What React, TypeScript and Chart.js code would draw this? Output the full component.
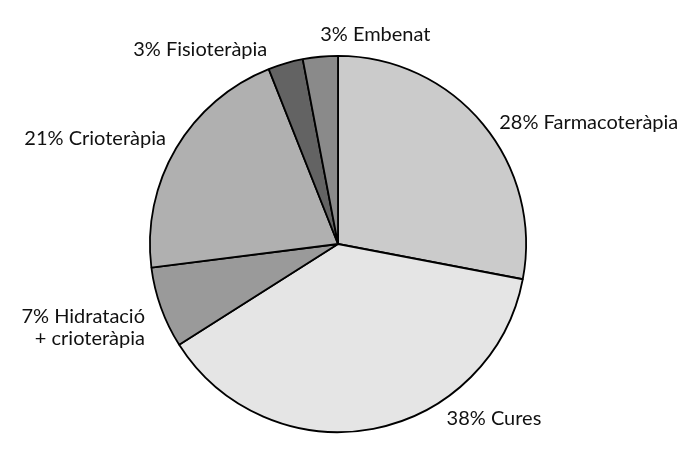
import React, { useEffect, useRef } from "react";
import { Chart, registerables } from "chart.js";

Chart.register(...registerables);

const categories = ["Farmacoteràpia", "Cures", "Hidratació + crioteràpia", "Crioteràpia", "Fisioteràpia", "Embenat"];
const values = [28, 38, 7, 21, 3, 3];
const labelLines = [
  ["28% Farmacoteràpia"],
  ["38% Cures"],
  ["7% Hidratació", "+ crioteràpia"],
  ["21% Crioteràpia"],
  ["3% Fisioteràpia"],
  ["3% Embenat"],
];
const colors = ["#cbcbcb", "#e5e5e5", "#9a9a9a", "#b0b0b0", "#636363", "#8a8a8a"];
// label anchors in units of the pie radius from its centre
const labelAnchors = [
  { dx: 0.857, dy: -0.614, align: "left" },
  { dx: 0.577, dy: 0.963, align: "left" },
  { dx: -1.026, dy: 0.418, align: "right" },
  { dx: -0.915, dy: -0.524, align: "right" },
  { dx: -0.376, dy: -1.0, align: "right" },
  { dx: -0.095, dy: -1.079, align: "left" },
];

const labelPlugin = {
  id: "outerLabels",
  afterDraw(chart: any) {
    const meta = chart.getDatasetMeta(0);
    const ctx = chart.ctx;
    ctx.save();
    ctx.fillStyle = "#111";
    ctx.font = "20px Lato";
    ctx.textBaseline = "alphabetic";
    meta.data.forEach((arc: any, i: number) => {
      const r = arc.outerRadius;
      const a = labelAnchors[i];
      const x = arc.x + a.dx * r;
      const y = arc.y + a.dy * r;
      ctx.textAlign = a.align;
      labelLines[i].forEach((line, j) => {
        ctx.fillText(line, x, y + j * 22);
      });
    });
    ctx.restore();
  },
};

export default function App() {
  const ref = useRef<HTMLCanvasElement>(null);
  useEffect(() => {
    const chart = new Chart(ref.current!, {
      type: "pie",
      data: {
        labels: categories,
        datasets: [
          {
            data: values,
            backgroundColor: colors,
            borderColor: "#000",
            borderWidth: 1.8,
          },
        ],
      },
      options: {
        animation: false,
        responsive: false,
        maintainAspectRatio: false,
        layout: { padding: { top: 55, bottom: 25, left: 149, right: 173 } },
        plugins: { legend: { display: false }, tooltip: { enabled: false } },
      },
      plugins: [labelPlugin],
    });
    return () => chart.destroy();
  }, []);
  return (
    <div style={{ position: "fixed", left: 0, top: 0, width: 700, height: 458, background: "#fff" }}>
      <canvas ref={ref} width={700} height={458} />
    </div>
  );
}
